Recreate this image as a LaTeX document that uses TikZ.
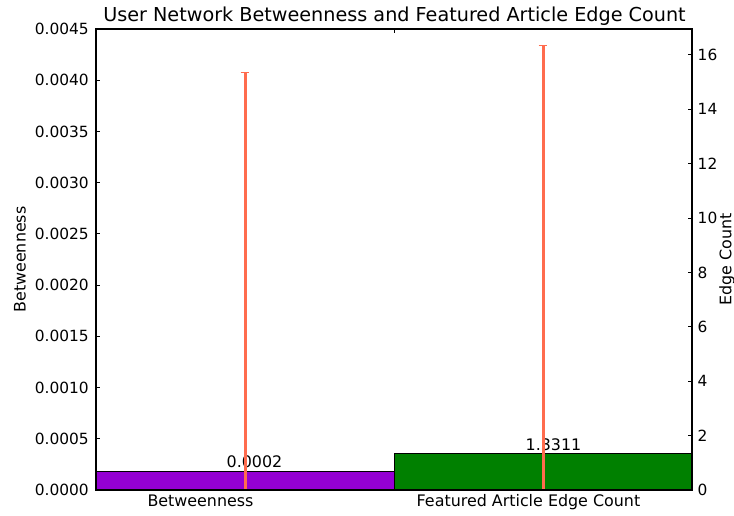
\documentclass[tikz,border=0pt]{standalone}
\usepackage{fontspec}
\setmainfont{DejaVu Sans}
\definecolor{errc}{RGB}{255,108,78}
\definecolor{barpurple}{RGB}{148,0,211}
\definecolor{bargreen}{RGB}{0,128,0}
\tikzset{
  ticklab/.style={inner sep=0pt, font=\fontsize{15.4}{18}\selectfont},
  wordlab/.style={inner sep=0pt, font=\fontsize{15.9}{19}\selectfont},
  axlab/.style={inner sep=0pt, font=\fontsize{15.9}{19}\selectfont, rotate=90},
  spine/.style={draw=black, line width=1.1pt},
  tickmark/.style={draw=black, line width=0.8pt},
  barbox/.style={draw=black, line width=1pt},
  errline/.style={draw=errc, line width=3pt},
  errcap/.style={draw=errc, line width=1.3pt},
}
\begin{document}
\begin{tikzpicture}[x=1pt, y=-1pt]
\useasboundingbox (0,0) rectangle (734,515);
% bars
\draw[barbox, fill=barpurple] (96,490) rectangle (394,471);
\draw[barbox, fill=bargreen] (394,490) rectangle (692,453.8);
% value labels
\node[wordlab, anchor=base] (v1) at (254.5,467) {0.0002};
\node[wordlab, anchor=base] (v2) at (553.5,450) {1.3311};
% error bars
\coordinate (e1b) at (245,490); \coordinate (e1t) at (245,72.5);
\coordinate (e2b) at (543,490); \coordinate (e2t) at (543,45.5);
\draw[errline] (e1b) -- (e1t);
\draw[errcap] ([xshift=-4.3pt]e1t) -- ([xshift=4.3pt]e1t);
\draw[errline] (e2b) -- (e2t);
\draw[errcap] ([xshift=-4.3pt]e2t) -- ([xshift=4.3pt]e2t);
% left ticks
\foreach \k/\lab in {0/0.0000,1/0.0005,2/0.0010,3/0.0015,4/0.0020,5/0.0025,6/0.0030,7/0.0035,8/0.0040,9/0.0045}{
  \pgfmathsetmacro{\yy}{490-51.222*\k}
  \draw[tickmark] (96,\yy) -- (100.3,\yy);
  \node[ticklab, anchor=east] (l\k) at (89,\yy) {\lab};
}
% right ticks
\foreach \v in {0,2,4,6,8,10,12,14,16}{
  \pgfmathsetmacro{\yy}{490-27.2*\v}
  \draw[tickmark] (692,\yy) -- (687.7,\yy);
  \node[ticklab, anchor=west] (r\v) at (697.5,\yy) {\v};
}
% x ticks
\draw[tickmark] (394,29) -- (394,33.3);
\draw[tickmark] (394,490) -- (394,485.7);
% spines
\draw[spine] (96,29) rectangle (692,490);
% x tick labels
\node[wordlab, anchor=base] (xl1) at (200.5,506) {Betweenness};
\node[wordlab, anchor=base] (xl2) at (528.5,506) {Featured Article Edge Count};
% axis labels
\node[axlab] (yl) at (20,259.5) {Betweenness};
\node[axlab] (yr) at (727,259.5) {Edge Count};
% title
\node[inner sep=0pt, anchor=base, font=\fontsize{19.2}{23}\selectfont] (title) at (394.5,21.5) {User Network Betweenness and Featured Article Edge Count};
\end{tikzpicture}
\end{document}
